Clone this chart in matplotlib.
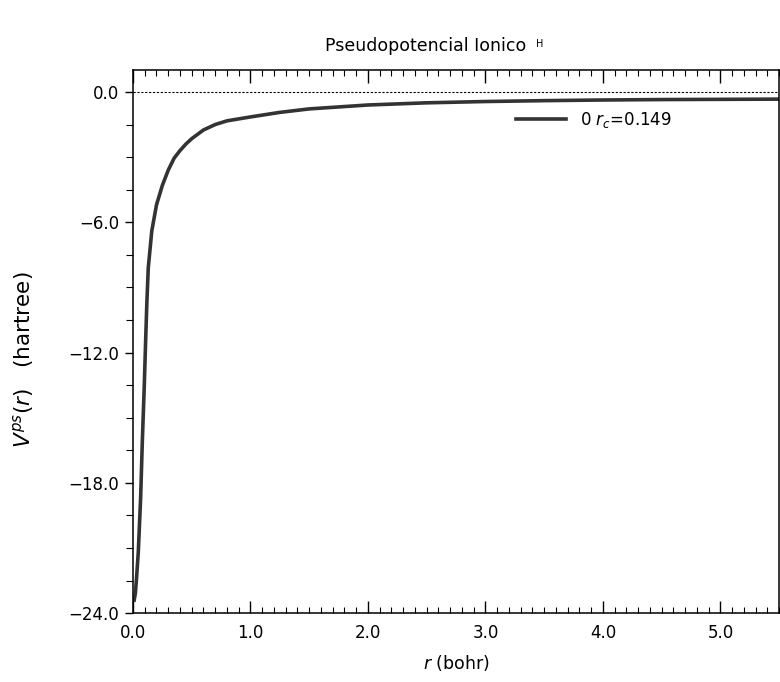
import numpy as np
import matplotlib
matplotlib.use("Agg")
import matplotlib.pyplot as plt
from matplotlib.ticker import MultipleLocator, FuncFormatter

plt.rcParams['font.family'] = ['DejaVu Sans']
plt.rcParams['mathtext.fontset'] = 'dejavusans'

# values (bohr, hartree)
r_bohr = [0.01, 0.02, 0.03, 0.045, 0.065, 0.08, 0.095, 0.108, 0.118, 0.13,
          0.16, 0.2, 0.25, 0.3, 0.35, 0.4, 0.45, 0.5, 0.6, 0.7, 0.8, 1.0,
          1.25, 1.5, 2.0, 2.5, 3.0, 3.5, 4.0, 4.5, 5.0, 5.5]
v_ps = [-23.4, -23.1, -22.4, -21.2, -18.7, -16.0, -13.7, -11.4, -9.7, -8.1,
        -6.4, -5.2, -4.3, -3.6, -3.05, -2.7, -2.4, -2.15, -1.75, -1.5, -1.33,
        -1.15, -0.94, -0.78, -0.6, -0.5, -0.44, -0.4, -0.37, -0.35, -0.34,
        -0.33]
curve_label = r'0 $r_c$=0.149'
x_ticks = [0, 1, 2, 3, 4, 5]
y_ticks = [0, -6, -12, -18, -24]

fig = plt.figure(figsize=(7.8, 6.82), dpi=100)
ax = fig.add_axes([0.1705, 0.101, 0.8285, 0.796])

ax.axhline(0, color='black', lw=0.8, ls=(0, (2, 1.5)))
ax.plot(r_bohr, v_ps, color='#333333', lw=2.6, label=curve_label)

fmt = FuncFormatter(lambda v, pos: ('%.1f' % v).replace('-', '\u2212'))
ax.set_xlim(0, 5.5)
ax.set_ylim(-24, 1.0)
ax.set_xticks(x_ticks)
ax.set_yticks(y_ticks)
ax.xaxis.set_major_formatter(fmt)
ax.yaxis.set_major_formatter(fmt)
ax.xaxis.set_minor_locator(MultipleLocator(0.1))
ax.yaxis.set_minor_locator(MultipleLocator(1.5))

ax.tick_params(axis='x', which='both', direction='in', top=True, labelsize=12, pad=8)
ax.tick_params(axis='x', which='major', length=9, width=1.0)
ax.tick_params(axis='x', which='minor', length=4, width=0.8)
ax.tick_params(axis='y', which='both', direction='out', labelsize=12, pad=4)
ax.tick_params(axis='y', which='major', length=6, width=1.0)
ax.tick_params(axis='y', which='minor', length=5, width=0.8)
for s in ax.spines.values():
    s.set_linewidth(1.1)

ax.set_xlabel(r'$r$ (bohr)', fontsize=12.5, labelpad=8)
ax.set_ylabel(r'$V^{ps}(r)$   (hartree)', fontsize=15.5)
ax.yaxis.set_label_coords(-0.150, 0.466)

ax.legend(loc='upper left', bbox_to_anchor=(0.57, 0.955), frameon=False,
          fontsize=12, handlelength=3.0, handletextpad=0.8)

fig.text(0.417, 0.925, 'Pseudopotencial Ionico', fontsize=12.5, ha='left', va='baseline')
fig.text(0.687, 0.931, 'H', fontsize=7, ha='left', va='baseline')

fig.savefig('out.png', dpi=100)
